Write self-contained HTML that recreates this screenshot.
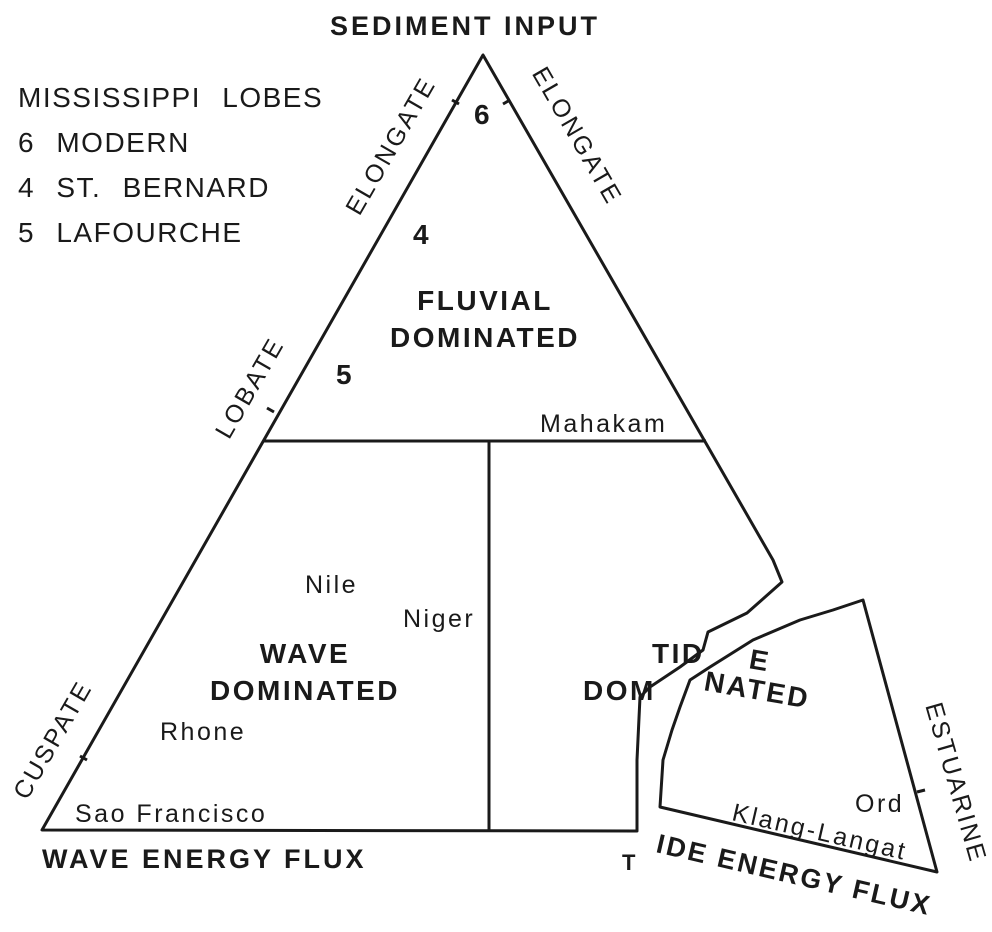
<!DOCTYPE html>
<html><head><style>body{margin:0;background:#fff}svg{display:block}</style></head><body>
<svg width="992" height="932" viewBox="0 0 992 932" xmlns="http://www.w3.org/2000/svg" font-family="Liberation Sans, sans-serif" fill="#1a1a1a">
<g font-weight="bold" font-size="28" letter-spacing="2.5">
<text x="652" y="663">TID</text>
<text x="583" y="700">DOM</text>
</g>
<g fill="none" stroke="#1a1a1a" stroke-width="3" stroke-linejoin="round">
<path d="M773,560 L483,55 L42,830 L637,831 L637,760 L640,697 L650,687 L680,667 L703,650 L708,632 L747,613 L782,582 Z"/>
<line x1="263" y1="441" x2="706" y2="441"/>
<line x1="489" y1="441" x2="489" y2="830"/>
<path d="M863,600 L937,872 L660,807 L663,760 L672,730 L680,707 L690,680 L710,667 L753,640 L800,620 L833,610 Z" fill="#fff"/>
<line x1="452" y1="100" x2="459" y2="104"/>
<line x1="510" y1="100" x2="503" y2="104"/>
<line x1="267" y1="408" x2="274" y2="412"/>
<line x1="80" y1="756" x2="87" y2="760"/>
<line x1="917" y1="792" x2="925" y2="790"/>
</g>
<g font-weight="bold" font-size="27" letter-spacing="3">
<text x="330" y="35">SEDIMENT INPUT</text>
<text x="42" y="868">WAVE ENERGY FLUX</text>
<text x="622" y="870" font-size="22">T</text>
<text transform="translate(655,852) rotate(13)" letter-spacing="2.5">IDE ENERGY FLUX</text>
</g>
<g font-size="28" letter-spacing="1.5" word-spacing="12">
<text x="18" y="107">MISSISSIPPI LOBES</text>
<text x="18" y="152">6 MODERN</text>
<text x="18" y="197">4 ST. BERNARD</text>
<text x="18" y="242">5 LAFOURCHE</text>
</g>
<g font-weight="bold" font-size="28" letter-spacing="2.5">
<text x="483" y="124" text-anchor="middle">6</text>
<text x="422" y="244" text-anchor="middle">4</text>
<text x="345" y="384" text-anchor="middle">5</text>
<text x="485" y="310" text-anchor="middle">FLUVIAL</text>
<text x="485" y="347" text-anchor="middle">DOMINATED</text>
<text x="305" y="663" text-anchor="middle">WAVE</text>
<text x="305" y="700" text-anchor="middle">DOMINATED</text>
<text transform="translate(748,668) rotate(10)">E</text>
<text transform="translate(703,690) rotate(10)">NATED</text>
</g>
<g font-size="25" letter-spacing="2.5">
<text x="540" y="432">Mahakam</text>
<text x="305" y="593">Nile</text>
<text x="403" y="627">Niger</text>
<text x="160" y="740">Rhone</text>
<text x="75" y="822">Sao Francisco</text>
<text x="855" y="812">Ord</text>
<text transform="translate(818,840) rotate(13)" text-anchor="middle">Klang-Langat</text>
<text transform="translate(398,150) rotate(-60)" text-anchor="middle">ELONGATE</text>
<text transform="translate(570,140) rotate(60)" text-anchor="middle">ELONGATE</text>
<text transform="translate(257,392) rotate(-60)" text-anchor="middle">LOBATE</text>
<text transform="translate(60,744) rotate(-60)" text-anchor="middle">CUSPATE</text>
<text transform="translate(948,785) rotate(74)" text-anchor="middle">ESTUARINE</text>
</g>
</svg>
</body></html>
